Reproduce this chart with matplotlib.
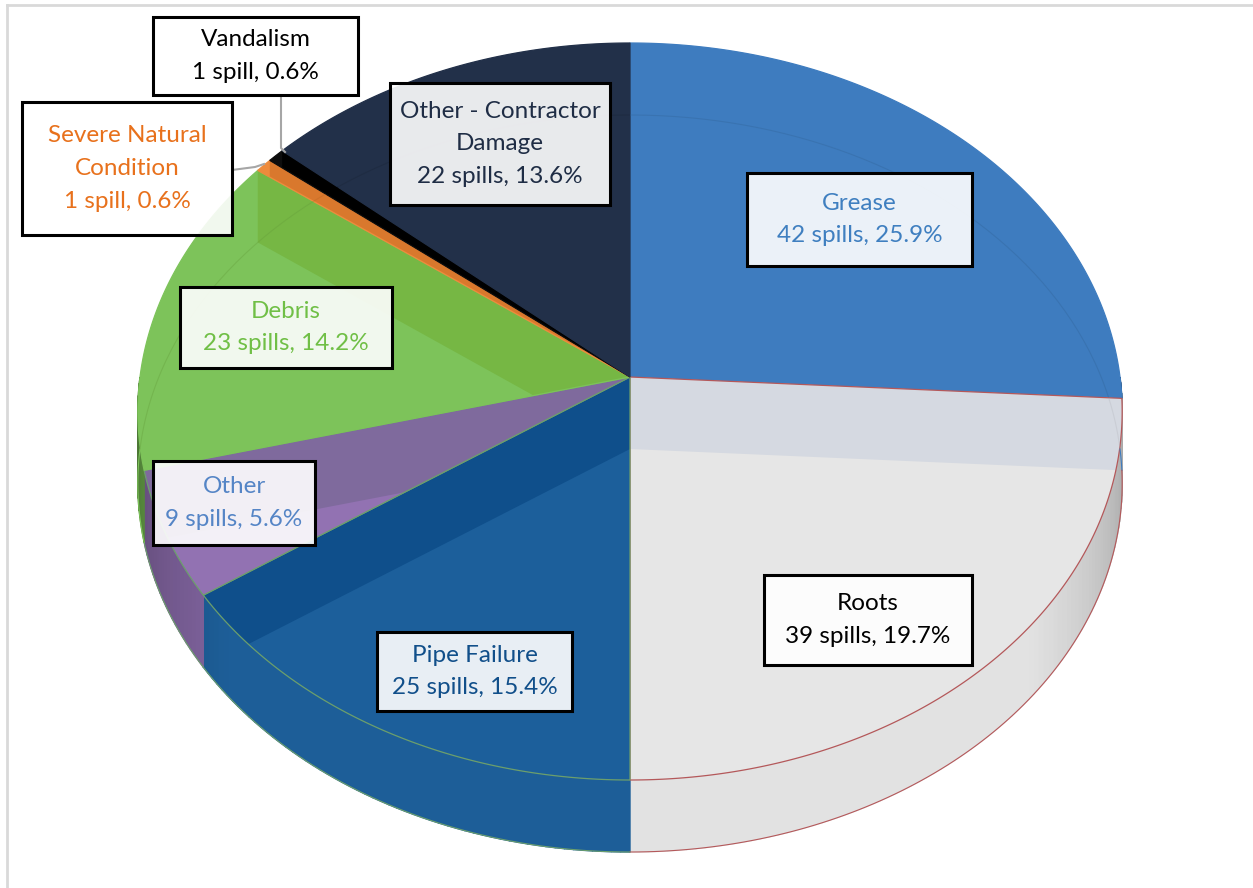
import matplotlib.pyplot as plt
import numpy as np
from matplotlib.patches import Polygon, Rectangle
from matplotlib.colors import to_rgb

# data
causes = ["Grease", "Roots", "Pipe Failure", "Other", "Debris",
          "Severe Natural Condition", "Vandalism", "Other - Contractor Damage"]
spills = [42, 39, 25, 9, 23, 1, 1, 22]
pct_labels = ["25.9%", "19.7%", "15.4%", "5.6%", "14.2%", "0.6%", "0.6%", "13.6%"]
label_names = ["Grease", "Roots", "Pipe Failure", "Other", "Debris",
               "Severe Natural\nCondition", "Vandalism", "Other - Contractor\nDamage"]

# styles
top_colors = ["#3e7cbf", "#e6e6e6", "#1c5f9b", "#9272b2", "#7dc35a", "#ee8b3c", "#0d0d0d", "#223049"]
band_colors = ["#3a74b2", "#d5d9e1", "#0f4f8b", "#7f6a9d", "#76b744", "#d9782d", "#000000", "#1d2a40"]
wall_colors = ["#2f6aa8", "#e2e2e2", "#1d5e98", "#80639e", "#6aa84a", "#d9782d", "#000000", "#1d2a40"]
edge_colors = ["#3e7cbf", "#b4585a", "#6c9f6c", "#6c9f6c", "#7dc35a", "#ee8b3c", "#0d0d0d", "#223049"]
text_colors = ["#3f7fc0", "black", "#114f8a", "#5585c6", "#70bf46", "#e8711c", "black", "#1f2d45"]
# label boxes (x0, y0, x1, y1) in pixels
boxes = [(747, 173, 972, 266), (764, 575, 972, 665), (377, 632, 572, 711),
         (153, 461, 315, 545), (180, 287, 392, 368), (22, 102, 232, 235),
         (153, 17, 358, 95), (390, 83, 610, 205)]

# tilted pie geometry (perspective: far half looks smaller)
CX, CY = 630, 377
RX = 490
TOP, BOT = 334, 403          # centre-to-rim distances, far and near
K = (BOT - TOP) / (BOT + TOP)
RY = TOP * (1 + K)
DEPTH = 72


def rim(theta, dz=0.0):
    t = np.radians(theta)
    u, v = np.cos(t), np.sin(t)
    w = 1 + K * v
    return CX + RX * u / w, CY - RY * v / w + dz


def shade(color, f):
    return tuple(min(1, c * f) for c in to_rgb(color))


fig = plt.figure(figsize=(12.53, 8.88), dpi=100)
ax = fig.add_axes([0, 0, 1, 1])
ax.set_xlim(0, 1253)
ax.set_ylim(888, 0)
ax.axis("off")

# chart area border
ax.plot([7, 1253], [5, 5], color="#d9d9d9", lw=2)
ax.plot([7, 7], [5, 888], color="#d9d9d9", lw=2)

total = sum(spills)
fracs = np.cumsum([0] + spills) / total
starts = 90 - 360 * fracs[:-1]
ends = 90 - 360 * fracs[1:]

# side walls (front half)
for i in range(len(spills)):
    a_hi = min(starts[i], 0)
    a_lo = max(ends[i], -180)
    if a_hi <= a_lo:
        continue
    n = max(2, int(np.ceil(a_hi - a_lo)))
    angs = np.linspace(a_hi, a_lo, n + 1)
    for a0, a1 in zip(angs[:-1], angs[1:]):
        am = 0.5 * (a0 + a1)
        f = 0.7 + 0.3 * min(1, -am / 40, (180 + am) / 40)
        x0, y0 = rim(a0)
        x1, y1 = rim(a1)
        col = shade(wall_colors[i], f)
        ax.add_patch(Polygon([(x0, y0), (x1, y1), (x1, y1 + DEPTH), (x0, y0 + DEPTH)],
                             closed=True, facecolor=col, edgecolor=col, lw=1.0))
    xs, ys = rim(np.linspace(a_hi, a_lo, 100), DEPTH)
    ax.plot(xs, ys, color=edge_colors[i], lw=0.8)

# top faces, see-through radial walls and bottom rim
for i in range(len(spills)):
    angs = np.linspace(starts[i], ends[i], 200)
    xs, ys = rim(angs)
    poly = [(CX, CY)] + list(zip(xs, ys))
    face = Polygon(poly, closed=True, facecolor=top_colors[i], edgecolor="none")
    ax.add_patch(face)
    for a in (starts[i], ends[i]):
        ex, ey = rim(a)
        band = Polygon([(CX, CY), (ex, ey), (ex, ey + DEPTH), (CX, CY + DEPTH)],
                       closed=True, facecolor=band_colors[i], edgecolor="none")
        ax.add_patch(band)
        band.set_clip_path(face)
    bx, by = rim(np.linspace(-180, 180, 400), DEPTH)
    ln, = ax.plot(bx, by, color=shade(band_colors[i], 0.85), lw=0.8, alpha=0.35)
    ln.set_clip_path(face)
    ax.add_patch(Polygon(poly, closed=True, facecolor="none",
                         edgecolor=edge_colors[i], lw=0.9))

# leader lines
ax.plot([281, 281, 285], [95, 148, 152], color="#a6a6a6", lw=1.5)
ax.plot([232, 255, 264], [170, 167, 164], color="#a6a6a6", lw=1.5)

# data labels
for i in range(len(spills)):
    x0, y0, x1, y1 = boxes[i]
    ax.add_patch(Rectangle((x0, y0), x1 - x0, y1 - y0, facecolor=(1, 1, 1, 0.9),
                           edgecolor="black", lw=2.2, zorder=5))
    word = "spill" if spills[i] == 1 else "spills"
    lines = label_names[i].split("\n") + [f"{spills[i]} {word}, {pct_labels[i]}"]
    cx, cy = (x0 + x1) / 2, (y0 + y1) / 2
    for k, line in enumerate(lines):
        ax.text(cx, cy + (k - (len(lines) - 1) / 2) * 32.5, line, ha="center", va="center",
                fontsize=17.5, family="Lato", color=text_colors[i], zorder=6)

fig.savefig("out.png", dpi=100)
